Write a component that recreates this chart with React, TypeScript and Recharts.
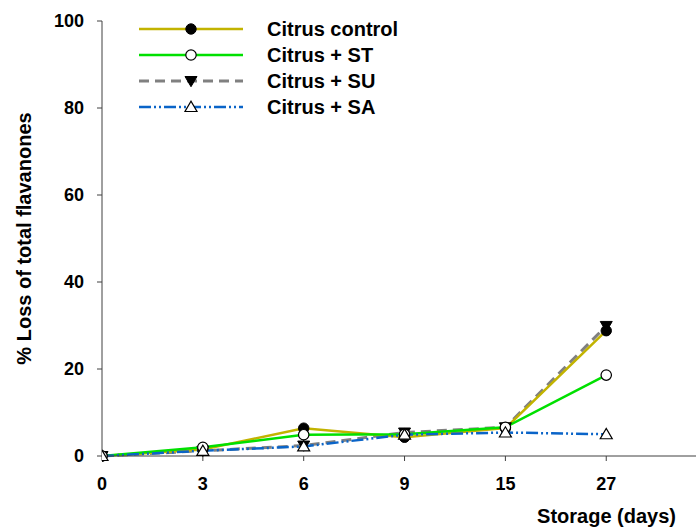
import React from 'react';
import { LineChart, Line, XAxis, YAxis, Legend } from 'recharts';

const categories = ['0', '3', '6', '9', '15', '27'];
const citrusControl = [0, 1.5, 6.4, 4.3, 6.4, 28.8];
const citrusST = [0, 2.0, 4.9, 5.0, 6.6, 18.6];
const citrusSU = [0, 1.2, 2.4, 5.4, 6.6, 29.9];
const citrusSA = [0, 1.2, 2.2, 4.9, 5.4, 5.0];
const yTicks = [0, 20, 40, 60, 80, 100];

const data = categories.map((c, i) => ({
  idx: i,
  day: c,
  control: citrusControl[i],
  st: citrusST[i],
  su: citrusSU[i],
  sa: citrusSA[i],
}));

const FONT = 'Arial, "Liberation Sans", sans-serif';

type MarkerKind = 'filledCircle' | 'openCircle' | 'downTri' | 'upTri';

function Marker({ kind, cx, cy }: { kind: MarkerKind; cx: number; cy: number }) {
  if (kind === 'filledCircle') return <circle cx={cx} cy={cy} r={5.2} fill="#000" stroke="#000" strokeWidth={1} />;
  if (kind === 'openCircle') return <circle cx={cx} cy={cy} r={5.2} fill="#fff" stroke="#000" strokeWidth={1.2} />;
  if (kind === 'downTri') {
    const s = 6;
    return <polygon points={`${cx - s},${cy - s * 0.75} ${cx + s},${cy - s * 0.75} ${cx},${cy + s * 0.95}`} fill="#000" stroke="#000" strokeWidth={1} />;
  }
  const s = 6;
  return <polygon points={`${cx - s},${cy + s * 0.75} ${cx + s},${cy + s * 0.75} ${cx},${cy - s * 0.95}`} fill="#fff" stroke="#000" strokeWidth={1.2} />;
}

const makeDot = (kind: MarkerKind) => (props: any) => {
  const { cx, cy, index } = props;
  if (cx == null || cy == null) return <g key={`d-${kind}-${index}`} />;
  return <Marker key={`d-${kind}-${index}`} kind={kind} cx={cx} cy={cy} />;
};

const legendItems: { label: string; color: string; dash?: string; width: number; kind: MarkerKind }[] = [
  { label: 'Citrus control', color: '#C2B300', width: 2.5, kind: 'filledCircle' },
  { label: 'Citrus + ST', color: '#00E000', width: 2.5, kind: 'openCircle' },
  { label: 'Citrus + SU', color: '#808080', width: 3, dash: '10 6', kind: 'downTri' },
  { label: 'Citrus + SA', color: '#0A64C8', width: 2.5, dash: '12 3 2 3 2 3', kind: 'upTri' },
];

const LegendContent = () => (
  <svg width={300} height={110}>
    {legendItems.map((it, i) => {
      const y = 14 + i * 26;
      return (
        <g key={it.label}>
          <line x1={9} x2={113} y1={y} y2={y} stroke={it.color} strokeWidth={it.width} strokeDasharray={it.dash} />
          <Marker kind={it.kind} cx={61} cy={y} />
          <text x={137} y={y} dy="0.36em" fontFamily={FONT} fontWeight="bold" fontSize={20} fill="#000">
            {it.label}
          </text>
        </g>
      );
    })}
  </svg>
);

export default function App() {
  return (
    <div style={{ position: 'absolute', left: 0, top: 0, width: 696, height: 527, background: '#fff' }}>
      <LineChart width={696} height={527} data={data} margin={{ top: 21, right: 0, bottom: 0, left: 0 }}>
        <XAxis
          type="number"
          dataKey="idx"
          domain={[0, 5.89]}
          ticks={[0, 1, 2, 3, 4, 5]}
          tickFormatter={(v: number) => categories[v] ?? ''}
          height={71}
          allowDataOverflow
          stroke="#404040"
          tickSize={5}
          tickMargin={16}
          tick={{ fill: '#000', fontFamily: FONT, fontWeight: 'bold', fontSize: 18 }}
          label={{
            value: 'Storage (days)',
            position: 'insideBottomRight',
            offset: 4,
            fill: '#000',
            fontFamily: FONT,
            fontWeight: 'bold',
            fontSize: 20,
            dx: -16,
          }}
        />
        <YAxis
          type="number"
          domain={[0, 100]}
          ticks={yTicks}
          width={102}
          stroke="#404040"
          tickSize={5}
          tickMargin={13}
          tick={{ fill: '#000', fontFamily: FONT, fontWeight: 'bold', fontSize: 18 }}
          label={{
            value: '% Loss of total flavanones',
            angle: -90,
            position: 'insideLeft',
            offset: 24,
            fill: '#000',
            fontFamily: FONT,
            fontWeight: 'bold',
            fontSize: 20,
            style: { textAnchor: 'middle' },
          }}
        />
        <Legend
          layout="horizontal"
          verticalAlign="middle"
          align="center"
          content={LegendContent}
          wrapperStyle={{ position: 'absolute', left: 130, top: 15, width: 300, height: 110 }}
        />
        <Line dataKey="su" stroke="#808080" strokeWidth={3} strokeDasharray="10 6" dot={makeDot('downTri')} isAnimationActive={false} />
        <Line dataKey="control" stroke="#C2B300" strokeWidth={2.5} dot={makeDot('filledCircle')} isAnimationActive={false} />
        <Line dataKey="st" stroke="#00E000" strokeWidth={2.5} dot={makeDot('openCircle')} isAnimationActive={false} />
        <Line dataKey="sa" stroke="#0A64C8" strokeWidth={2.5} strokeDasharray="12 3 2 3 2 3" dot={makeDot('upTri')} isAnimationActive={false} />
      </LineChart>
    </div>
  );
}
